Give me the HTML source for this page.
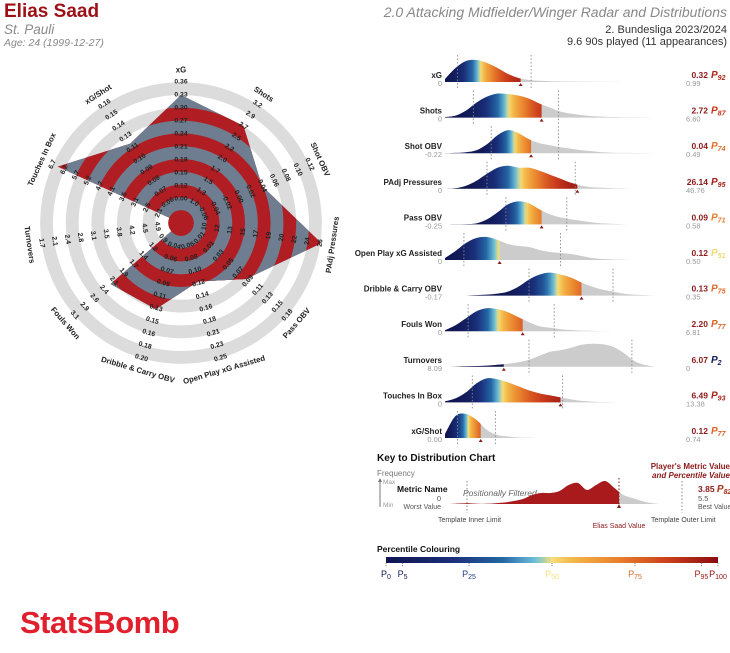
<!DOCTYPE html>
<html><head><meta charset="utf-8">
<style>
html,body{margin:0;padding:0;background:#fff;}
svg{display:block;}
.nar{font-family:"Liberation Sans Narrow","Liberation Sans",sans-serif;}
.sans{font-family:"Liberation Sans",sans-serif;}
</style></head>
<body>
<svg id="chart" width="730" height="653" viewBox="0 0 730 653" xmlns="http://www.w3.org/2000/svg">
<defs>
<linearGradient id="pctbar" x1="0" x2="1" y1="0" y2="0">
<stop offset="0" stop-color="#0f1550"/><stop offset="0.2" stop-color="#1a2f7a"/><stop offset="0.35" stop-color="#2466a5"/><stop offset="0.45" stop-color="#6cc0da"/><stop offset="0.5" stop-color="#f5df7a"/><stop offset="0.56" stop-color="#f4b848"/><stop offset="0.7" stop-color="#e8802c"/><stop offset="0.85" stop-color="#cc3d1c"/><stop offset="1" stop-color="#8a0c10"/>
</linearGradient>
</defs>
<g>
<text class="nar" x="4" y="17" font-size="19" font-weight="bold" fill="#9c1016">Elias Saad</text>
<text class="nar" x="4" y="34" font-size="13.5" font-style="italic" fill="#888">St. Pauli</text>
<text class="nar" x="4" y="46" font-size="10.5" font-style="italic" fill="#888">Age: 24 (1999-12-27)</text>
<text class="nar" x="727" y="17" text-anchor="end" font-size="14" font-style="italic" fill="#888">2.0 Attacking Midfielder/Winger Radar and Distributions</text>
<text class="nar" x="727" y="33" text-anchor="end" font-size="11" fill="#333">2. Bundesliga 2023/2024</text>
<text class="nar" x="727" y="45" text-anchor="end" font-size="11" fill="#333">9.6 90s played (11 appearances)</text>
</g>
<g id="radar"></g>
<g id="dists"></g>
<g id="key">
<text class="sans" x="377" y="461" font-size="10" font-weight="bold" fill="#111">Key to Distribution Chart</text>
<text class="sans" x="377" y="476" font-size="8" fill="#777">Frequency</text>
<line x1="380" y1="480" x2="380" y2="507" stroke="#777" stroke-width="1"/>
<path d="M378,482 L380,478 L382,482 Z" fill="#777"/>
<text class="sans" x="383" y="484" font-size="6.5" fill="#999">Max</text>
<text class="sans" x="383" y="507" font-size="6.5" fill="#999">Min</text>
<text class="sans" x="397" y="492" font-size="8.5" font-weight="bold" fill="#111">Metric Name</text>
<text class="sans" x="441" y="501" text-anchor="end" font-size="7.5" fill="#555">0</text>
<text class="sans" x="441" y="509" text-anchor="end" font-size="7" fill="#555">Worst Value</text>
<text class="sans" x="463" y="496" font-size="8.5" font-style="italic" fill="#666">Positionally Filtered</text>
<path id="keycurve"/>
<line x1="467" y1="481" x2="467" y2="513" stroke="#888" stroke-dasharray="1.5,2"/>
<line x1="682" y1="481" x2="682" y2="513" stroke="#888" stroke-dasharray="1.5,2"/>
<line x1="619" y1="478" x2="619" y2="505" stroke="#8b1a1a" stroke-dasharray="1.5,2"/>
<path d="M617,508 L619,504 L621,508 Z" fill="#8b1a1a"/>
<text class="sans" x="438" y="522" font-size="7" fill="#444">Template Inner Limit</text>
<text class="sans" x="619" y="528" text-anchor="middle" font-size="7" fill="#8b1a1a">Elias Saad Value</text>
<text class="sans" x="651" y="522" font-size="7" fill="#444">Template Outer Limit</text>
<text class="sans" x="730" y="469" text-anchor="end" font-size="8" font-weight="bold" fill="#8b1a1a">Player's Metric Value</text>
<text class="sans" x="730" y="478" text-anchor="end" font-size="8" font-weight="bold" font-style="italic" fill="#8b1a1a">and Percentile Value</text>
<text class="sans" x="698" y="492" font-size="8.5" font-weight="bold" fill="#8b1a1a">3.85 <tspan font-style="italic" font-size="10" fill="#a8321c">P</tspan><tspan font-style="italic" font-size="7" dy="2" fill="#a8321c">82</tspan></text>
<text class="sans" x="698" y="501" font-size="7.5" fill="#555">5.5</text>
<text class="sans" x="698" y="509" font-size="7" fill="#555">Best Value</text>
<text class="sans" x="377" y="552" font-size="8.5" font-weight="bold" fill="#111">Percentile Colouring</text>
<rect x="386" y="557" width="332" height="6" fill="url(#pctbar)"/>
<g id="pctlabels"></g>
</g>
<text class="sans" x="20" y="633" font-size="31" font-weight="bold" fill="#e0202c" letter-spacing="-0.5">StatsBomb</text>
</svg>
<script>
// ---------- Radar data ----------
const radarMetrics = ["xG","Shots","Shot OBV","PAdj Pressures","Pass OBV","Open Play xG Assisted","Dribble & Carry OBV","Fouls Won","Turnovers","Touches In Box","xG/Shot"];
const radarValues = [0.32,2.72,0.04,26.14,0.09,0.12,0.13,2.20,6.07,6.49,0.12];
const radarTicks = [
 ["0.00","0.12","0.15","0.18","0.21","0.24","0.27","0.30","0.33","0.36"],
 ["1.0","1.3","1.5","1.7","2.0","2.2","2.5","2.7","2.9","3.2"],
 ["-0.06","-0.04","-0.02","0.00","0.02","0.04","0.06","0.08","0.10","0.12"],
 ["10","12","13","15","17","19","20","22","24","26"],
 ["-0.01","0.01","0.03","0.05","0.07","0.09","0.11","0.13","0.15","0.18"],
 ["0.06","0.08","0.10","0.12","0.14","0.16","0.18","0.21","0.23","0.25"],
 ["0.04","0.06","0.07","0.09","0.11","0.13","0.15","0.16","0.18","0.20"],
 ["0.9","1.2","1.4","1.7","1.9","2.1","2.4","2.6","2.9","3.1"],
 ["4.9","4.5","4.2","3.8","3.5","3.1","2.8","2.4","2.1","1.7"],
 ["2.1","2.5","3.1","3.5","4.1","4.7","5.2","5.7","6.2","6.7"],
 ["0.06","0.07","0.08","0.09","0.10","0.11","0.13","0.14","0.15","0.16"]
];
// ---------- Distribution data ----------
const distNames = ["xG","Shots","Shot OBV","PAdj Pressures","Pass OBV","Open Play xG Assisted","Dribble & Carry OBV","Fouls Won","Turnovers","Touches In Box","xG/Shot"];
const distValues = ["0.32","2.72","0.04","26.14","0.09","0.12","0.13","2.20","6.07","6.49","0.12"];
const distPercentiles = [92,87,74,95,71,51,75,77,2,93,77];
const distMins = ["0","0","-0.22","0","-0.25","0","-0.17","0","8.09","0","0.00"];
const distMaxs = ["0.99","6.60","0.49","46.76","0.58","0.50","0.35","6.81","0","13.38","0.74"];
const distPlayerPos = [0.36,0.46,0.41,0.63,0.46,0.26,0.65,0.37,0.28,0.55,0.17];
const distInner = [0.06,0.135,0.22,0.2,0.29,0.09,0.4,0.11,0.4,0.13,0.06];
const distOuter = [0.41,0.54,0.54,0.62,0.58,0.55,0.8,0.52,0.89,0.56,0.24];
const distDensity = [
 [3,14,21,22,19,14,8,4,2,1.2,0.8,0.5,0.4,0.3,0.2,0.1,0.1,0,0,0,0],
 [0.5,2,7,15,21,24,23.5,22,19,14,10,6,4,2.5,1.5,1,0.6,0.4,0.2,0.1,0],
 [0,0.3,1,3,9,18,23,20,14,10,8,6,4.5,3,2,1,0.5,0.3,0.2,0.1,0],
 [0,0.5,3,8,15,21,23,21,21,18,14,10,6,3,1.5,1,0.6,0.3,0.1,0,0],
 [0,0.1,0.3,1,5,12,20,23,21,15,10,7,5,3.5,2,1,0.5,0.2,0,0,0],
 [2,9,17,22,23,20,16,14,13,10,8,7,6,4,2,1,0.5,0.2,0,0,0],
 [0,0,0,0.5,1,2,4,9,16,21,23,21,18,13,9,6,4,2,1,0.5,0],
 [1,6,13,20,23,22,19,14,9,5,3.5,2,1.2,0.6,0.3,0.1,0,0,0,0,0],
 [0,0.2,0.5,0.8,1.2,2,3,4.5,7,11,15,16.5,19,22,23,22.5,20,14,6,2,0],
 [1,4,10,19,24,23,20,16,12,9,7,5,3,1.5,0.8,0.4,0.2,0,0,0,0],
 [4,22,24,18,8,3,1.5,0.5,0.2,0,0,0,0,0,0,0,0,0,0,0,0]
];
const keyDensity = [0,0.5,0.8,0.3,0.2,0.8,1.5,3,5,9,11,11,13,19,21,14,19,23,16,9,6,3,1,0];
const pctLabels = [0,5,25,50,75,95,100];

const NS="http://www.w3.org/2000/svg";
function mk(tag,attrs,parent){const e=document.createElementNS(NS,tag);for(const k in attrs)e.setAttribute(k,attrs[k]);parent.appendChild(e);return e;}

const cmap=[[0,"#0f1550"],[0.2,"#1a2f7a"],[0.35,"#2466a5"],[0.45,"#6cc0da"],[0.5,"#f5df7a"],[0.56,"#f4b848"],[0.7,"#e8802c"],[0.85,"#cc3d1c"],[1,"#8a0c10"]];
function hex2rgb(h){return [parseInt(h.substr(1,2),16),parseInt(h.substr(3,2),16),parseInt(h.substr(5,2),16)];}
function colorAt(t){t=Math.max(0,Math.min(1,t));for(let i=1;i<cmap.length;i++){if(t<=cmap[i][0]){const a=cmap[i-1],b=cmap[i];const f=(t-a[0])/(b[0]-a[0]);const c1=hex2rgb(a[1]),c2=hex2rgb(b[1]);return "rgb("+c1.map((v,j)=>Math.round(v+(c2[j]-v)*f)).join(",")+")";}}return cmap[cmap.length-1][1];}

// ---------- Radar ----------
const radar=document.getElementById('radar');
const cx=181,cy=223,band=12.8,nb=11;
const angStep=360/radarMetrics.length;
function ang(i){return (-90+i*angStep)*Math.PI/180;}
function rScale(i,v){const t=radarTicks[i];const a=parseFloat(t[0]),b=parseFloat(t[t.length-1]);let r=24+(v-a)/(b-a)*117;return Math.max(0,Math.min(143,r));}
for(let k=nb-1;k>=0;k--){
  const c=mk('circle',{cx:cx,cy:cy,r:band*(k+1),fill:(k%2===0)?"#dcdcdc":"#ffffff"},radar);
  
  
}
const pts=radarValues.map((v,i)=>{const r=rScale(i,v);return [cx+r*Math.cos(ang(i)),cy+r*Math.sin(ang(i))];});
const defs=document.querySelector('defs');
const cp=mk('clipPath',{id:'polyclip'},defs);
mk('polygon',{points:pts.map(p=>p.join(',')).join(' ')},cp);
const pg=mk('g',{'clip-path':'url(#polyclip)'},radar);


for(let k=nb-1;k>=0;k--){
  mk('circle',{cx:cx,cy:cy,r:band*(k+1),fill:(k%2===0)?"#b01e24":"#6e7e90"},pg);
}
const center=mk('circle',{cx:cx,cy:cy,r:band,fill:"#b01e24"},radar);


function rotFor(i){let d=i*angStep;if(d>90&&d<270)d-=180;return d;}
radarMetrics.forEach((m,i)=>{
  const a=ang(i),rot=rotFor(i);
  radarTicks[i].forEach((t,j)=>{
    const r=24+j*13;
    const x=cx+r*Math.cos(a),y=cy+r*Math.sin(a);
    const tx=mk('text',{x:x,y:y,'text-anchor':'middle','dominant-baseline':'central','font-size':'6.8','font-weight':'bold',fill:'#222','font-family':'Liberation Sans, sans-serif',transform:'rotate('+rot+' '+x+' '+y+')'},radar);
    tx.textContent=t;
    
    
  });
  const r=153,x=cx+r*Math.cos(a),y=cy+r*Math.sin(a);
  const lt=mk('text',{x:x,y:y,'text-anchor':'middle','dominant-baseline':'central','font-size':'7.8','font-weight':'bold',fill:'#222','font-family':'Liberation Sans, sans-serif',transform:'rotate('+rot+' '+x+' '+y+')'},radar);
  lt.textContent=m;
  
  
});

// ---------- Distributions ----------
const dists=document.getElementById('dists');
const X0=445,W=210,Y0=82,DY=35.6;
function xOf(f){return X0+f*W;}
function curvePath(dens,base,x0,w){
  const n=dens.length,p=dens.map((h,i)=>[x0+i/(n-1)*w,base-h]);
  let d="M"+p[0][0]+","+base+" L"+p[0][0]+","+p[0][1];
  for(let i=0;i<n-1;i++){
    const p0=p[Math.max(0,i-1)],p1=p[i],p2=p[i+1],p3=p[Math.min(n-1,i+2)];
    const c1=[p1[0]+(p2[0]-p0[0])/6,p1[1]+(p2[1]-p0[1])/6],c2=[p2[0]-(p3[0]-p1[0])/6,p2[1]-(p3[1]-p1[1])/6];
    d+=" C"+c1[0]+","+Math.min(base,c1[1])+" "+c2[0]+","+Math.min(base,c2[1])+" "+p2[0]+","+p2[1];
  }
  return d+" L"+p[n-1][0]+","+base+" Z";
}
function densAt(dens,f){const n=dens.length-1;const t=f*n;const i=Math.min(n-1,Math.floor(t));const u=t-i;return dens[i]*(1-u)+dens[i+1]*u;}
distNames.forEach((name,i)=>{
  const base=Y0+i*DY;
  const g=mk('g',{},dists);
  
  
  const lab=mk('text',{x:442,y:base-4,'text-anchor':'end','font-size':'8','font-weight':'bold',fill:'#222','font-family':'Liberation Sans, sans-serif'},g);
  lab.textContent=name;
  
  
  const mn=mk('text',{x:442,y:base+4,'text-anchor':'end','font-size':'7.5',fill:'#999','font-family':'Liberation Sans, sans-serif'},g);
  mn.textContent=distMins[i];
  
  
  const d=curvePath(distDensity[i],base,X0,W);
  const grey=mk('path',{d:d,fill:'#cccccc'},g);
  
  
  const pf=distPlayerPos[i],px=xOf(pf),pct=distPercentiles[i]/100;
  // cumulative density up to player position, for percentile-based colouring
  const N=40,cum=[0];
  for(let s=1;s<=N;s++){const f0=pf*(s-1)/N,f1=pf*s/N;cum.push(cum[s-1]+(densAt(distDensity[i],f0)+densAt(distDensity[i],f1))/2+0.02);}
  const tot=cum[N];
  const gid='grad'+i;
  const lg=mk('linearGradient',{id:gid,gradientUnits:'userSpaceOnUse',x1:X0,x2:px,y1:0,y2:0},defs);
  for(let s=0;s<=N;s++){mk('stop',{offset:s/N,'stop-color':colorAt(cum[s]/tot*pct)},lg);}
  const cid='clip'+i;
  const cpp=mk('clipPath',{id:cid},defs);
  mk('rect',{x:X0-1,y:base-40,width:px-X0+1,height:41},cpp);
  const col=mk('path',{d:d,fill:'url(#'+gid+')','clip-path':'url(#'+cid+')'},g);
  
  
  [distInner[i],distOuter[i]].forEach((f,k)=>{
    const l=mk('line',{x1:xOf(f),x2:xOf(f),y1:base-27,y2:base+6,stroke:'#888','stroke-width':'0.9','stroke-dasharray':'1.5,2'},g);
    
    
  });
  const mk2=mk('path',{d:"M"+(px-2)+","+(base+4)+" L"+px+","+(base+1)+" L"+(px+2)+","+(base+4)+" Z",fill:'#8b1a1a'},g);
  
  
  const v=mk('text',{x:708,y:base-4,'text-anchor':'end','font-size':'8.5','font-weight':'bold',fill:'#8b1a1a','font-family':'Liberation Sans, sans-serif'},g);
  v.textContent=distValues[i];
  
  
  const pc=colorAt(pct);
  const pt=mk('text',{x:711,y:base-4,'font-size':'10','font-weight':'bold','font-style':'italic',fill:pc,'font-family':'Liberation Sans, sans-serif'},g);
  
  
  const t1=mk('tspan',{},pt);t1.textContent='P';
  const t2=mk('tspan',{'font-size':'7',dy:'2'},pt);t2.textContent=String(distPercentiles[i]);
  const mx=mk('text',{x:686,y:base+4,'font-size':'7.5',fill:'#999','font-family':'Liberation Sans, sans-serif'},g);
  mx.textContent=distMaxs[i];
  
  
});

// key curve
(function(){
  const base=504,x0=450,w=210;
  const d=curvePath(keyDensity,base,x0,w);
  const kc=document.getElementById('keycurve');
  kc.setAttribute('d',d);kc.setAttribute('fill','#cccccc');
  const cpp=mk('clipPath',{id:'keyclip'},defs);
  mk('rect',{x:x0-1,y:base-40,width:619-x0+1,height:41},cpp);
  const red=mk('path',{d:d,fill:'#a81a1c','clip-path':'url(#keyclip)'},document.getElementById('key'));
  
  
})();
const pl=document.getElementById('pctlabels');
pctLabels.forEach(p=>{
  const x=386+p/100*332;
  const t=mk('text',{x:x,y:577,'text-anchor':'middle','font-size':'9',fill:colorAt(p/100),'font-family':'Liberation Sans, sans-serif'},pl);
  
  
  const a=mk('tspan',{},t);a.textContent='P';
  const b=mk('tspan',{'font-size':'7',dy:'2'},t);b.textContent=String(p);
  const tk=mk('line',{x1:x,x2:x,y1:563,y2:567,stroke:'#666','stroke-width':'0.8','stroke-dasharray':'1,1'},pl);
  
  
});
</script>
</body></html>
